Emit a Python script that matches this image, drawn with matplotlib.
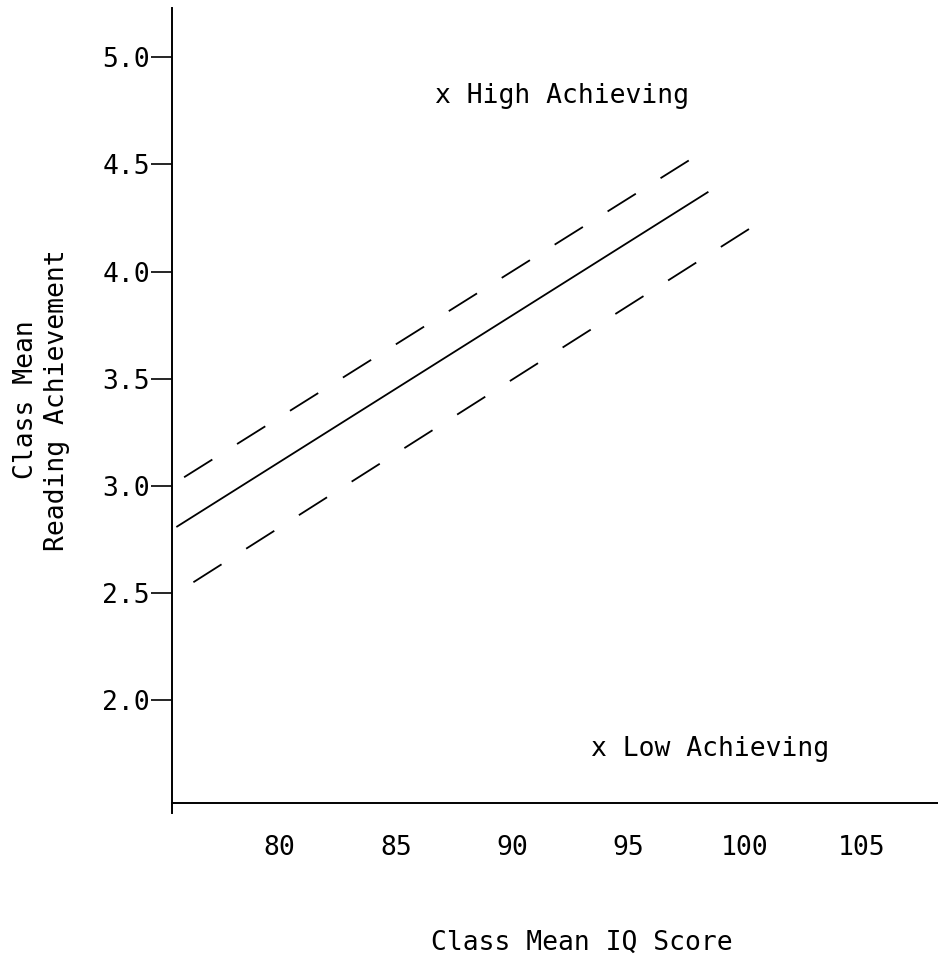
import numpy as np
import matplotlib
matplotlib.use("Agg")
import matplotlib.pyplot as plt

plt.rcParams['font.family'] = ['DejaVu Sans Mono', 'DejaVu Sans']
plt.rcParams['lines.scale_dashes'] = False

# Regression line and band (class mean IQ -> class mean reading achievement)
fit_iq = [75.6, 98.4]
fit_read = [2.81, 4.37]
upper_iq = [75.9, 98.2]
upper_read = [3.04, 4.56]
lower_iq = [76.3, 100.2]
lower_read = [2.55, 4.20]

# Labelled classes
class_names = ["x High Achieving", "x Low Achieving"]
class_iq = [86.7, 93.4]
class_read = [4.82, 1.77]

x_ticks = [80, 85, 90, 95, 100, 105]
y_ticks = [2.0, 2.5, 3.0, 3.5, 4.0, 4.5, 5.0]

fig = plt.figure(figsize=(9.38, 9.6), dpi=100)
ax = fig.add_axes([172 / 938, 147 / 960, 766 / 938, 805 / 960])

ax.plot(fit_iq, fit_read, color='black', lw=1.3)
ax.plot(upper_iq, upper_read, color='black', lw=1.3, dashes=(24, 21))
ax.plot(lower_iq, lower_read, color='black', lw=1.3, dashes=(24, 21))

for name, xi, yi in zip(class_names, class_iq, class_read):
    ax.text(xi, yi, name, fontsize=19, ha='left', va='center')

ax.set_xlim(75.38, 108.3)
ax.set_ylim(1.473, 5.23)

ax.spines['top'].set_visible(False)
ax.spines['right'].set_visible(False)
ax.spines['bottom'].set_position(('data', 1.52))
ax.spines['left'].set_linewidth(1.4)
ax.spines['bottom'].set_linewidth(1.4)

ax.set_xticks(x_ticks)
ax.set_xticklabels([str(v) for v in x_ticks])
ax.set_yticks(y_ticks)
ax.set_yticklabels(["%.1f" % v for v in y_ticks])
ax.tick_params(axis='x', length=0, pad=23, labelsize=19)
ax.tick_params(axis='y', length=15, width=1.2, pad=1, labelsize=19)

fig.text(582 / 938, 10 / 960, "Class Mean IQ Score", fontsize=19,
         ha='center', va='baseline')
fig.text(42 / 938, 1 - 400 / 960, "Class Mean\nReading Achievement",
         fontsize=19, rotation=90, ha='center', va='center',
         multialignment='center', linespacing=1.25)

fig.savefig("out.png", dpi=100)
